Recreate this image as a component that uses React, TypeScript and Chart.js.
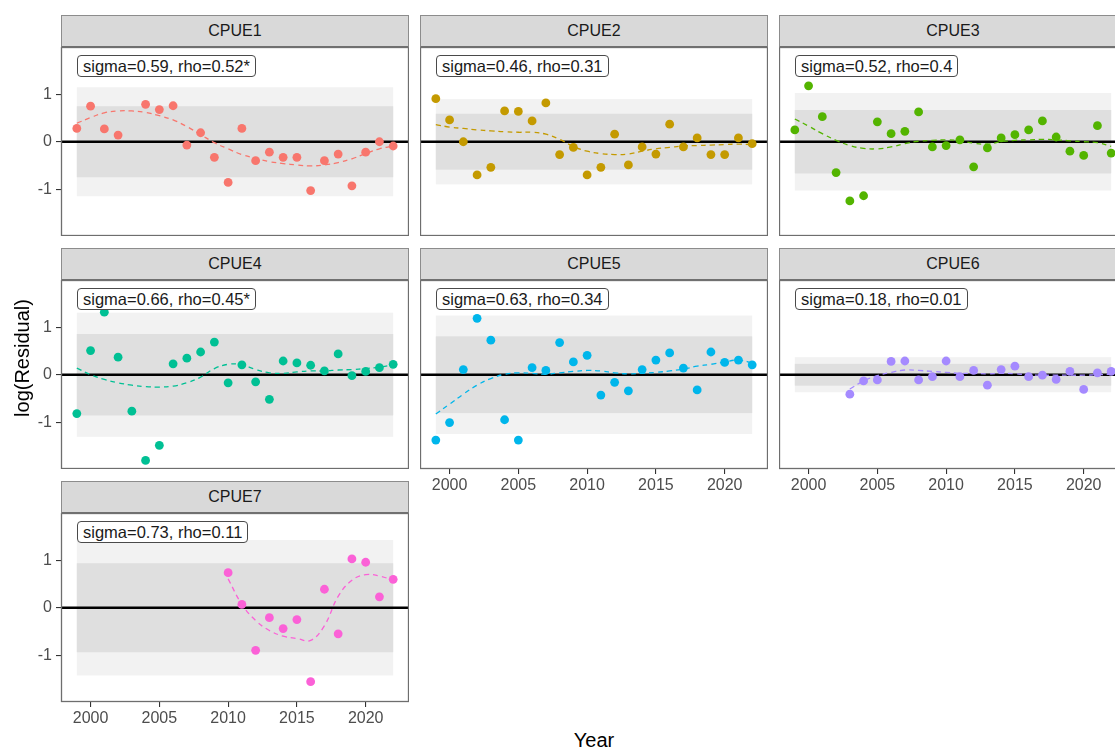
import React, { useEffect, useRef } from "react";
import { Chart, registerables } from "chart.js";
Chart.register(...registerables);

const YEARS = [1999, 2000, 2001, 2002, 2003, 2004, 2005, 2006, 2007, 2008, 2009, 2010, 2011, 2012, 2013, 2014, 2015, 2016, 2017, 2018, 2019, 2020, 2021, 2022];

const CPUE1_RESID = [0.28, 0.75, 0.27, 0.14, null, 0.79, 0.68, 0.76, -0.07, 0.19, -0.33, -0.86, 0.28, -0.4, -0.22, -0.33, -0.33, -1.03, -0.4, -0.26, -0.93, -0.22, 0.0, -0.09];
const CPUE1_SMOOTH = [0.39, 0.51, 0.61, 0.65, 0.65, 0.62, 0.55, 0.46, 0.32, 0.15, -0.02, -0.15, -0.27, -0.35, -0.42, -0.46, -0.49, -0.51, -0.49, -0.44, -0.36, -0.25, -0.15, -0.09];

const CPUE2_RESID = [0.91, 0.46, 0.0, -0.7, -0.54, 0.65, 0.64, 0.44, 0.82, -0.27, -0.12, -0.7, -0.54, 0.16, -0.49, -0.11, -0.26, 0.37, -0.11, 0.08, -0.27, -0.27, 0.08, -0.04];
const CPUE2_SMOOTH = [0.36, 0.31, 0.28, 0.25, 0.23, 0.21, 0.2, 0.2, 0.16, 0.05, -0.1, -0.2, -0.25, -0.27, -0.26, -0.2, -0.15, -0.12, -0.09, -0.08, -0.07, -0.06, -0.05, -0.06];

const CPUE3_RESID = [0.25, 1.18, 0.53, -0.65, -1.25, -1.14, 0.42, 0.17, 0.22, 0.63, -0.11, -0.08, 0.04, -0.53, -0.13, 0.08, 0.15, 0.25, 0.44, 0.1, -0.2, -0.29, 0.34, -0.24];
const CPUE3_SMOOTH = [0.48, 0.33, 0.17, 0.03, -0.08, -0.14, -0.15, -0.11, -0.04, 0.01, 0.03, 0.04, 0.02, -0.03, -0.05, 0.0, 0.03, 0.04, 0.05, 0.04, 0.02, 0.0, -0.02, -0.1];

const CPUE4_RESID = [-0.82, 0.51, 1.32, 0.37, -0.77, -1.81, -1.49, 0.23, 0.35, 0.48, 0.69, -0.17, 0.21, -0.15, -0.52, 0.29, 0.25, 0.2, 0.08, 0.44, -0.02, 0.07, 0.15, 0.22];
const CPUE4_SMOOTH = [0.14, 0.0, -0.1, -0.17, -0.22, -0.25, -0.26, -0.24, -0.17, -0.05, 0.13, 0.22, 0.21, 0.11, 0.04, 0.03, 0.06, 0.08, 0.08, 0.1, 0.11, 0.13, 0.16, 0.21];

const CPUE5_RESID = [-1.38, -1.01, 0.11, 1.19, 0.73, -0.95, -1.38, 0.15, 0.09, 0.68, 0.27, 0.41, -0.43, -0.16, -0.34, 0.11, 0.31, 0.46, 0.14, -0.32, 0.48, 0.26, 0.31, 0.21];
const CPUE5_SMOOTH = [-0.83, -0.62, -0.41, -0.22, -0.08, 0.01, 0.04, 0.03, 0.01, 0.04, 0.07, 0.09, 0.08, 0.04, 0.02, 0.03, 0.05, 0.08, 0.12, 0.18, 0.22, 0.27, 0.31, 0.25];

const CPUE6_RESID = [null, null, null, null, -0.41, -0.13, -0.11, 0.28, 0.29, -0.11, -0.04, 0.29, -0.04, 0.09, -0.22, 0.11, 0.18, -0.04, -0.01, -0.1, 0.07, -0.31, 0.04, 0.07];
const CPUE6_SMOOTH = [null, null, null, null, -0.3, -0.13, -0.02, 0.05, 0.1, 0.09, 0.07, 0.05, 0.03, 0.03, 0.02, 0.03, 0.02, 0.0, -0.01, -0.01, -0.01, -0.01, 0.0, 0.01];

const CPUE7_RESID = [null, null, null, null, null, null, null, null, null, null, null, 0.74, 0.07, -0.9, -0.21, -0.44, -0.25, -1.56, 0.39, -0.55, 1.03, 0.96, 0.23, 0.6];
const CPUE7_SMOOTH = [null, null, null, null, null, null, null, null, null, null, null, 0.61, 0.07, -0.27, -0.48, -0.6, -0.65, -0.69, -0.38, 0.24, 0.58, 0.7, 0.67, 0.58];

const PANEL_NAMES = ["CPUE1", "CPUE2", "CPUE3", "CPUE4", "CPUE5", "CPUE6", "CPUE7"];
const PANEL_COLORS = ["#F8766D", "#C49A00", "#53B400", "#00C094", "#00B6EB", "#A58AFF", "#FB61D7"];
const SIGMA_LABELS = [
  "sigma=0.59, rho=0.52*",
  "sigma=0.46, rho=0.31",
  "sigma=0.52, rho=0.4",
  "sigma=0.66, rho=0.45*",
  "sigma=0.63, rho=0.34",
  "sigma=0.18, rho=0.01",
  "sigma=0.73, rho=0.11",
];
const BAND_INNER = [0.75, 0.59, 0.67, 0.86, 0.81, 0.23, 0.94];
const BAND_OUTER = [1.15, 0.9, 1.03, 1.31, 1.25, 0.37, 1.43];
const BAND_YEARS = [1999, 2022];
const RESIDS = [CPUE1_RESID, CPUE2_RESID, CPUE3_RESID, CPUE4_RESID, CPUE5_RESID, CPUE6_RESID, CPUE7_RESID];
const SMOOTHS = [CPUE1_SMOOTH, CPUE2_SMOOTH, CPUE3_SMOOTH, CPUE4_SMOOTH, CPUE5_SMOOTH, CPUE6_SMOOTH, CPUE7_SMOOTH];
const X_TICKS = [2000, 2005, 2010, 2015, 2020];
const Y_TICKS = [-1, 0, 1];
const X_RANGE = [1997.85, 2023.15];
const Y_RANGE = [-1.99, 2.0];

const COL_LEFT = [61, 420, 779];
const ROW_TOP = [47, 280, 513];
const PW = 348;
const PH = 189;
const YAXIS_W = 40;
const XAXIS_H = 30;
const STRIP_H = 32;
const FONT = "'Liberation Sans', Arial, Helvetica, sans-serif";

const PANELS = [
  { row: 0, col: 0, showY: true, showX: false },
  { row: 0, col: 1, showY: false, showX: false },
  { row: 0, col: 2, showY: false, showX: false },
  { row: 1, col: 0, showY: true, showX: false },
  { row: 1, col: 1, showY: false, showX: true },
  { row: 1, col: 2, showY: false, showX: true },
  { row: 2, col: 0, showY: true, showX: true },
];

const decorPlugin = {
  id: "panelDecor",
  beforeDatasetsDraw(chart: any, _args: any, opts: any) {
    const { ctx, chartArea: a, scales } = chart;
    const x = scales.x;
    const y = scales.y;
    ctx.save();
    const x0 = x.getPixelForValue(BAND_YEARS[0]);
    const x1 = x.getPixelForValue(BAND_YEARS[1]);
    const o1 = y.getPixelForValue(opts.outer);
    const o2 = y.getPixelForValue(-opts.outer);
    ctx.fillStyle = "#F2F2F2";
    ctx.fillRect(x0, o1, x1 - x0, o2 - o1);
    const i1 = y.getPixelForValue(opts.inner);
    const i2 = y.getPixelForValue(-opts.inner);
    ctx.fillStyle = "#DFDFDF";
    ctx.fillRect(x0, i1, x1 - x0, i2 - i1);
    const yz = y.getPixelForValue(0);
    ctx.strokeStyle = "#000000";
    ctx.lineWidth = 2.6;
    ctx.beginPath();
    ctx.moveTo(a.left, yz);
    ctx.lineTo(a.right, yz);
    ctx.stroke();
    ctx.restore();
  },
  afterDraw(chart: any) {
    const { ctx, chartArea: a } = chart;
    ctx.save();
    ctx.strokeStyle = "#6E6E6E";
    ctx.lineWidth = 1.3;
    ctx.strokeRect(a.left + 0.5, a.top + 0.5, a.right - a.left - 1, a.bottom - a.top - 1);
    ctx.restore();
  },
};

const zeroPad = (s: any) => {
  s.paddingTop = 0;
  s.paddingBottom = 0;
  s.paddingLeft = 0;
  s.paddingRight = 0;
};

function Panel({ idx }: { idx: number }) {
  const ref = useRef<HTMLCanvasElement | null>(null);
  const p = PANELS[idx];
  const left = COL_LEFT[p.col] - (p.showY ? YAXIS_W : 0);
  const top = ROW_TOP[p.row];
  const width = PW + (p.showY ? YAXIS_W : 0);
  const height = PH + (p.showX ? XAXIS_H : 0);

  useEffect(() => {
    if (!ref.current) return;
    const color = PANEL_COLORS[idx];
    const pts = YEARS.map((yr, i) => ({ x: yr, y: RESIDS[idx][i] })).filter((d) => d.y !== null);
    const smooth = YEARS.map((yr, i) => ({ x: yr, y: SMOOTHS[idx][i] })).filter((d) => d.y !== null);
    const tickFont = { family: FONT, size: 16 };
    const xScale: any = {
      type: "linear",
      min: X_RANGE[0],
      max: X_RANGE[1],
      display: p.showX,
      afterBuildTicks: (s: any) => {
        s.ticks = X_TICKS.map((v) => ({ value: v }));
      },
      grid: { display: true, drawOnChartArea: false, drawTicks: true, tickLength: 5, color: "#333333", lineWidth: 1.1 },
      border: { display: false },
      ticks: { font: tickFont, color: "#4D4D4D", padding: 2, maxRotation: 0, autoSkip: false, callback: (v: any) => String(v) },
    };
    if (p.showX) xScale.afterFit = (s: any) => { s.height = XAXIS_H; zeroPad(s); };
    const yScale: any = {
      type: "linear",
      min: Y_RANGE[0],
      max: Y_RANGE[1],
      display: p.showY,
      afterBuildTicks: (s: any) => {
        s.ticks = Y_TICKS.map((v) => ({ value: v }));
      },
      grid: { display: true, drawOnChartArea: false, drawTicks: true, tickLength: 5, color: "#333333", lineWidth: 1.1 },
      border: { display: false },
      ticks: { font: tickFont, color: "#4D4D4D", padding: 4, autoSkip: false, callback: (v: any) => String(v) },
    };
    if (p.showY) yScale.afterFit = (s: any) => { s.width = YAXIS_W; zeroPad(s); };

    const chart = new Chart(ref.current, {
      type: "scatter",
      data: {
        datasets: [
          {
            data: pts as any,
            backgroundColor: color,
            borderWidth: 0,
            pointRadius: 4.4,
            pointHoverRadius: 4.4,
          },
          {
            data: smooth as any,
            showLine: true,
            borderColor: color,
            borderWidth: 1.3,
            borderDash: [5, 4],
            pointRadius: 0,
            tension: 0.4,
            fill: false,
          } as any,
        ],
      },
      options: {
        animation: false,
        responsive: false,
        devicePixelRatio: 1,
        events: [],
        layout: { padding: 0, autoPadding: false } as any,
        scales: { x: xScale, y: yScale },
        plugins: {
          legend: { display: false },
          tooltip: { enabled: false },
          panelDecor: { inner: BAND_INNER[idx], outer: BAND_OUTER[idx] },
        } as any,
      },
      plugins: [decorPlugin],
    });
    return () => chart.destroy();
  }, [idx]);

  return (
    <>
      <canvas
        ref={ref}
        width={width}
        height={height}
        style={{ position: "absolute", left, top, width, height }}
      />
      <div
        style={{
          position: "absolute",
          left: COL_LEFT[p.col],
          top: ROW_TOP[p.row] - STRIP_H,
          width: PW,
          height: STRIP_H + 1,
          boxSizing: "border-box",
          background: "#D9D9D9",
          border: "1px solid #8C8C8C",
          borderBottom: "2px solid #707070",
          fontFamily: FONT,
          fontSize: 16,
          color: "#1A1A1A",
          textAlign: "center",
          lineHeight: "29px",
        }}
      >
        {PANEL_NAMES[idx]}
      </div>
      <div
        style={{
          position: "absolute",
          left: COL_LEFT[p.col] + 16,
          top: ROW_TOP[p.row] + 8,
          height: 22,
          boxSizing: "border-box",
          padding: "0 5px",
          background: "#FFFFFF",
          border: "1px solid #4A4A4A",
          borderRadius: 4,
          fontFamily: FONT,
          fontSize: 16.5,
          lineHeight: "20px",
          color: "#1A1A1A",
          whiteSpace: "nowrap",
        }}
      >
        {SIGMA_LABELS[idx]}
      </div>
    </>
  );
}

export default function App() {
  return (
    <div
      style={{
        position: "absolute",
        left: 0,
        top: 0,
        width: 1115,
        height: 749,
        overflow: "hidden",
        background: "#FFFFFF",
      }}
    >
      {PANELS.map((_, i) => (
        <Panel key={i} idx={i} />
      ))}
      <div
        style={{
          position: "absolute",
          left: 22 - 100,
          top: 358 - 12,
          width: 200,
          height: 24,
          transform: "rotate(-90deg)",
          textAlign: "center",
          fontFamily: FONT,
          fontSize: 20,
          lineHeight: "24px",
          color: "#000000",
        }}
      >
        log(Residual)
      </div>
      <div
        style={{
          position: "absolute",
          left: 594 - 100,
          top: 740 - 12,
          width: 200,
          height: 24,
          textAlign: "center",
          fontFamily: FONT,
          fontSize: 20,
          lineHeight: "24px",
          color: "#000000",
        }}
      >
        Year
      </div>
    </div>
  );
}
